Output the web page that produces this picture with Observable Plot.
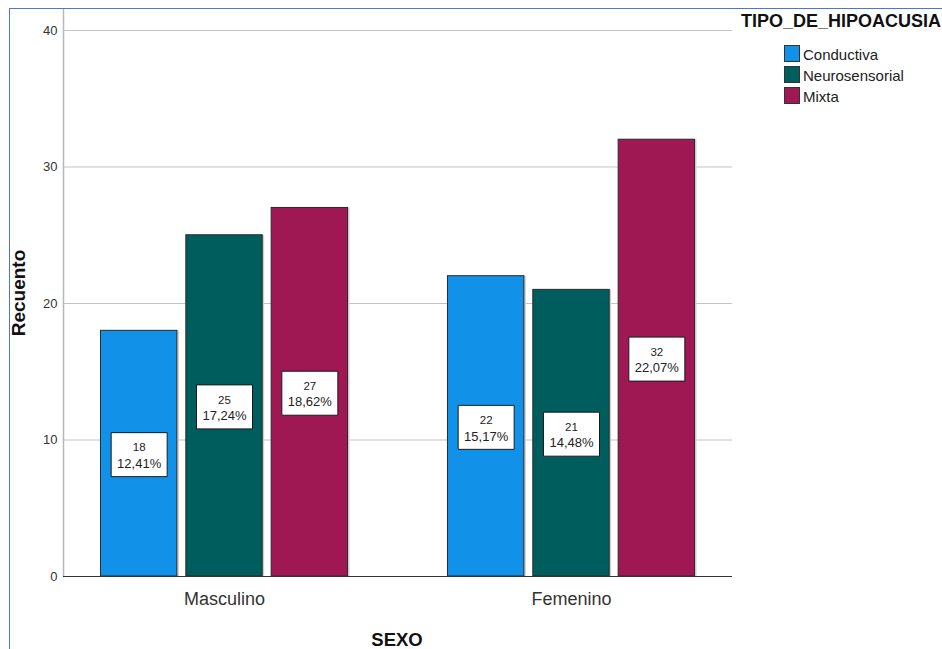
<!DOCTYPE html>
<html><head><meta charset="utf-8">
<script src="https://cdn.jsdelivr.net/npm/d3@7"></script>
<script src="https://cdn.jsdelivr.net/npm/@observablehq/plot@0.6"></script>
<style>
html,body{margin:0;padding:0;background:#fff;overflow:hidden;}
#wrap{position:relative;width:942px;height:649px;overflow:hidden;font-family:"Liberation Sans",Arial,sans-serif;color:#111;}
#border{position:absolute;left:9px;top:8px;width:960px;height:700px;border-left:1.5px solid #4a78d0;border-top:1.5px solid #4a78d0;}
.layer{position:absolute;left:0;top:0;}
.lbl{position:absolute;white-space:nowrap;line-height:1;}
#ltitle{left:741px;top:12px;font-size:18px;font-weight:bold;}
.sw{position:absolute;left:784px;width:14px;height:15px;border:1px solid #333;}
.li{left:803px;font-size:15px;color:#222;}
#ylab{left:18px;top:293px;font-size:19px;font-weight:bold;transform:translate(-50%,-50%) rotate(-90deg);}
#xlab{left:397px;top:632px;font-size:18.5px;line-height:15px;font-weight:bold;transform:translateX(-50%);}
</style></head>
<body>
<div id="wrap">
  <div class="layer" id="back"></div>
  <div class="layer" id="chart"></div>
  <div id="border"></div>
  <div id="legend"></div>
  <div class="lbl" id="ylab">Recuento</div>
  <div class="lbl" id="xlab">SEXO</div>
</div>
<script>
const sexos = ["Masculino", "Femenino"];
const tipos = ["Conductiva", "Neurosensorial", "Mixta"];
const colores = ["#1192e8", "#005d5d", "#9f1853"];
const conteoMasculino = [18, 25, 27];
const conteoFemenino = [22, 21, 32];
const pctMasculino = ["12,41%", "17,24%", "18,62%"];
const pctFemenino = ["15,17%", "14,48%", "22,07%"];
const yTicks = [0, 10, 20, 30, 40];
const yGrid = [10, 20, 30, 40];
const yBase = [0];
const yMax = 41.54;
const titulo = "TIPO_DE_HIPOACUSIA";

const data = [];
tipos.forEach((t, i) => {
  data.push({sexo: sexos[0], tipo: t, count: conteoMasculino[i], pct: pctMasculino[i]});
  data.push({sexo: sexos[1], tipo: t, count: conteoFemenino[i], pct: pctFemenino[i]});
});

const font = "'Liberation Sans',Arial,sans-serif";
const common = {
  width: 942, height: 649,
  marginLeft: 63, marginRight: 210, marginTop: 9, marginBottom: 73,
  style: {fontFamily: font, background: "transparent", overflow: "visible"},
  y: {domain: [0, yMax], axis: null}
};

// Background layer: gridlines, axis lines and y tick labels (non-faceted)
const back = Plot.plot({
  ...common,
  marks: [
    Plot.ruleY(yGrid, {stroke: "#c4c4c4", strokeWidth: 1}),
    Plot.frame({anchor: "left", stroke: "#b8b8b8", strokeWidth: 1.5}),
    Plot.axisY({ticks: yTicks, tickSize: 0, tickPadding: 6, fontSize: 13, label: null, tickFormat: d => String(d), fill: "#333"})
  ]
});
document.getElementById("back").appendChild(back);

// Foreground layer: grouped bars (faceted by sexo) and value labels
const boxSymbol = {draw(ctx) { ctx.rect(-28, -21, 56, 44); }};
const chart = Plot.plot({
  ...common,
  fx: {domain: sexos, paddingInner: 0.288, paddingOuter: 0.108, round: false, label: null},
  x: {domain: tipos, paddingInner: 0.105, paddingOuter: 0, round: false, axis: null},
  color: {domain: tipos, range: colores},
  marks: [
    Plot.barY(data, {fx: "sexo", x: "tipo", y: "count", fill: "#cfcfcf", dx: 2}),
    Plot.barY(data, {fx: "sexo", x: "tipo", y: "count", fill: "tipo", stroke: "#2a2a2a", strokeWidth: 1}),
    Plot.dot(data, {fx: "sexo", x: "tipo", y: d => d.count / 2, symbol: boxSymbol, r: 5, fill: "white", stroke: "#1a1a1a", strokeWidth: 1}),
    Plot.text(data, {fx: "sexo", x: "tipo", y: d => d.count / 2, text: d => String(d.count), dy: -6, fontSize: 11.5, fill: "#222"}),
    Plot.text(data, {fx: "sexo", x: "tipo", y: d => d.count / 2, text: "pct", dy: 10, fontSize: 13, fill: "#222"}),
    Plot.axisFx({anchor: "bottom", tickSize: 0, tickPadding: 16, fontSize: 18, label: null, fill: "#333"})
  ]
});
document.getElementById("chart").appendChild(chart);

// Baseline drawn on top, across the whole plot width
const base = Plot.plot({
  ...common,
  marks: [Plot.ruleY(yBase, {stroke: "#333", strokeWidth: 1.2})]
});
const baseDiv = document.createElement("div");
baseDiv.className = "layer";
baseDiv.appendChild(base);
document.getElementById("wrap").insertBefore(baseDiv, document.getElementById("border"));

const legend = document.getElementById("legend");
const t = document.createElement("div");
t.className = "lbl"; t.id = "ltitle"; t.textContent = titulo;
legend.appendChild(t);
tipos.forEach((tp, i) => {
  const top = 45 + i * 21;
  const sw = document.createElement("div");
  sw.className = "sw"; sw.style.top = top + "px"; sw.style.background = colores[i];
  legend.appendChild(sw);
  const l = document.createElement("div");
  l.className = "lbl li"; l.style.top = (top + 2) + "px"; l.textContent = tp;
  legend.appendChild(l);
});
</script>
</body></html>
